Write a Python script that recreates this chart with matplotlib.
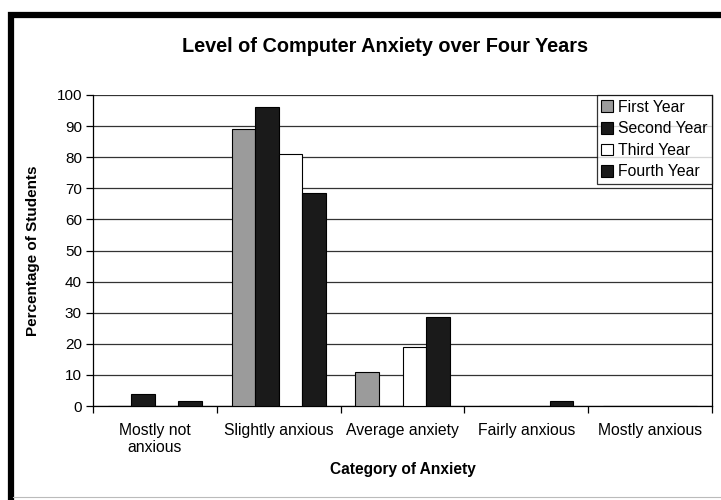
import matplotlib
matplotlib.use("Agg")
import matplotlib.pyplot as plt
from matplotlib.patches import Rectangle
from matplotlib.lines import Line2D
import numpy as np

plt.rcParams['font.family'] = ['Liberation Sans', 'DejaVu Sans']

categories = ["Mostly not\nanxious", "Slightly anxious", "Average anxiety", "Fairly anxious", "Mostly anxious"]
series_names = ["First Year", "Second Year", "Third Year", "Fourth Year"]
first_year = [0, 89, 11, 0, 0]
second_year = [4, 96, 0, 0, 0]
third_year = [0, 81, 19, 0, 0]
fourth_year = [1.5, 68.5, 28.5, 1.5, 0]
y_ticks = list(range(0, 101, 10))

series = [first_year, second_year, third_year, fourth_year]
colors = ["#9b9b9b", "#1a1a1a", "#ffffff", "#1a1a1a"]

fig = plt.figure(figsize=(7.21, 5.0), dpi=100)
ax = fig.add_axes([93/721, 94/500, (712-93)/721, (406-95)/500])

x = np.arange(len(categories))
w = 0.19
for j, (vals, c) in enumerate(zip(series, colors)):
    ax.bar(x + (j - 1.5) * w, vals, width=w, color=c, edgecolor="black",
           linewidth=0.8, label=series_names[j], zorder=3)

ax.set_xlim(-0.5, len(categories) - 0.5)
ax.set_ylim(0, 100)
ax.set_yticks(y_ticks)
ax.yaxis.grid(True, color="#333333", linewidth=0.9, zorder=0)
ax.set_axisbelow(True)

ax.set_xticks(x)
ax.set_xticklabels(categories, fontsize=11.3)
ax.tick_params(axis="x", length=0, pad=12)
ax.set_xticks(np.arange(len(categories) + 1) - 0.5, minor=True)
ax.tick_params(axis="x", which="minor", length=5, direction="out", width=0.9)
ax.tick_params(axis="y", length=5, direction="out", width=0.9, labelsize=11, pad=3)

for s in ["left", "bottom", "right"]:
    ax.spines[s].set_linewidth(0.9)
ax.spines["top"].set_visible(False)

ax.set_ylabel("Percentage of Students", fontsize=11, fontweight="bold", labelpad=12)
ax.set_xlabel("Category of Anxiety", fontsize=11.2, fontweight="bold", labelpad=5)

fig.text(385/721, 1 - 46/500, "Level of Computer Anxiety over Four Years",
         fontsize=14.3, fontweight="bold", ha="center", va="center")

leg = ax.legend(loc="upper right", bbox_to_anchor=(1.0, 1.0), fontsize=11.3,
                frameon=True, fancybox=False, edgecolor="black",
                handlelength=0.75, handleheight=0.75, handletextpad=0.3,
                borderpad=0.3, labelspacing=0.42, borderaxespad=0)
leg.get_frame().set_linewidth(0.9)

# outer chart border
fig.patches.append(Rectangle((10.5/721, -0.1), 1.2, 1 - 15/500 + 0.1,
                             transform=fig.transFigure, fill=False,
                             edgecolor="black", linewidth=4.5))
fig.lines.append(Line2D([13/721, 1], [3/500, 3/500], transform=fig.transFigure,
                        color="#bbbbbb", linewidth=0.8))

fig.savefig("out.png", dpi=100, facecolor="white")
